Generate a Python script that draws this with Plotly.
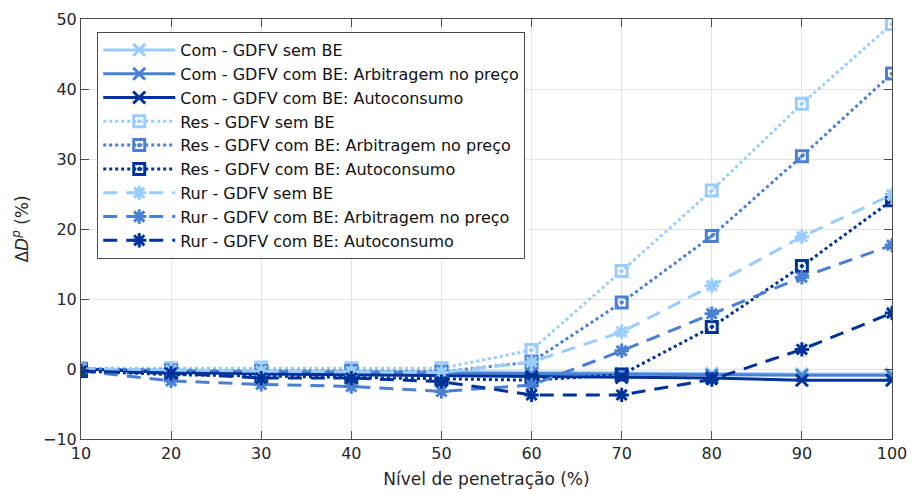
import plotly.graph_objects as go

x = [10, 20, 30, 40, 50, 60, 70, 80, 90, 100]

com_sem = [0.0, -0.2, -0.3, -0.3, -0.4, -0.5, -0.6, -0.6, -0.7, -0.7]
com_arb = [0.0, -0.3, -0.4, -0.5, -0.5, -0.7, -0.8, -0.9, -0.9, -0.9]
com_auto = [0.0, -0.5, -0.7, -0.8, -1.0, -1.1, -1.2, -1.3, -1.6, -1.6]

res_sem = [0.1, 0.1, 0.2, 0.1, 0.1, 2.7, 14.0, 25.5, 37.9, 49.3]
res_arb = [0.0, -0.2, -0.3, -0.3, -0.4, 1.0, 9.5, 19.0, 30.4, 42.2]
res_auto = [-0.3, -0.8, -1.0, -1.2, -1.5, -1.6, -0.8, 6.0, 14.7, 24.1]

rur_sem = [0.0, -0.2, -0.3, -0.4, -0.5, 1.0, 5.3, 11.9, 18.9, 24.9]
rur_arb = [-0.3, -1.7, -2.2, -2.5, -3.2, -2.3, 2.6, 7.9, 13.1, 17.7]
rur_auto = [-0.3, -0.6, -1.3, -1.3, -1.8, -3.7, -3.7, -1.5, 2.8, 8.0]

names = [
    "Com - GDFV sem BE",
    "Com - GDFV com BE: Arbitragem no preço",
    "Com - GDFV com BE: Autoconsumo",
    "Res - GDFV sem BE",
    "Res - GDFV com BE: Arbitragem no preço",
    "Res - GDFV com BE: Autoconsumo",
    "Rur - GDFV sem BE",
    "Rur - GDFV com BE: Arbitragem no preço",
    "Rur - GDFV com BE: Autoconsumo",
]
series = [com_sem, com_arb, com_auto, res_sem, res_arb, res_auto, rur_sem, rur_arb, rur_auto]

colors = ["#99CCFF", "#4A80D4", "#003399"]
dashes = ["solid", "dot", "14px,9px"]
symbols = ["x-thin-open", "square-open-dot", "asterisk-open"]

fig = go.Figure()
for i, (nm, ys) in enumerate(zip(names, series)):
    g = i // 3
    c = colors[i % 3]
    fig.add_trace(go.Scatter(
        x=x, y=ys, name=nm, mode="lines+markers",
        line=dict(color=c, width=3, dash=dashes[g]),
        marker=dict(symbol=symbols[g], size=12 if g != 1 else 11, color=c,
                    line=dict(color=c, width=3)),
    ))

axis_common = dict(
    showline=True, linecolor="#4d4d4d", linewidth=1, mirror="ticks",
    ticks="inside", ticklen=8, tickcolor="#4d4d4d",
    showgrid=True, gridcolor="#e3e3e3", gridwidth=1, zeroline=False,
    automargin=False,
    tickfont=dict(family="DejaVu Sans", size=16, color="#262626"),
)

fig.update_xaxes(range=[10, 100], tickvals=[10, 20, 30, 40, 50, 60, 70, 80, 90, 100],
                 title=dict(text="Nível de penetração (%)", standoff=10,
                            font=dict(family="DejaVu Sans", size=17, color="#262626")),
                 **axis_common)
fig.update_yaxes(range=[-10, 50], tickvals=[-10, 0, 10, 20, 30, 40, 50],
                 title=dict(text="Δ<i>D</i><sup><i>p</i></sup> (%)", standoff=10,
                            font=dict(family="DejaVu Sans", size=17, color="#262626")),
                 **axis_common)

fig.update_layout(
    width=912, height=494,
    margin=dict(l=81, r=20, t=19, b=55),
    plot_bgcolor="white", paper_bgcolor="white",
    font=dict(family="DejaVu Sans", size=16, color="#262626"),
    legend=dict(x=0.02, y=0.969, xanchor="left", yanchor="top",
                bgcolor="white", bordercolor="#4d4d4d", borderwidth=1,
                font=dict(family="DejaVu Sans", size=16, color="#111111"),
                itemwidth=72, tracegroupgap=0),
    showlegend=True,
)

fig.write_html("out.html")
